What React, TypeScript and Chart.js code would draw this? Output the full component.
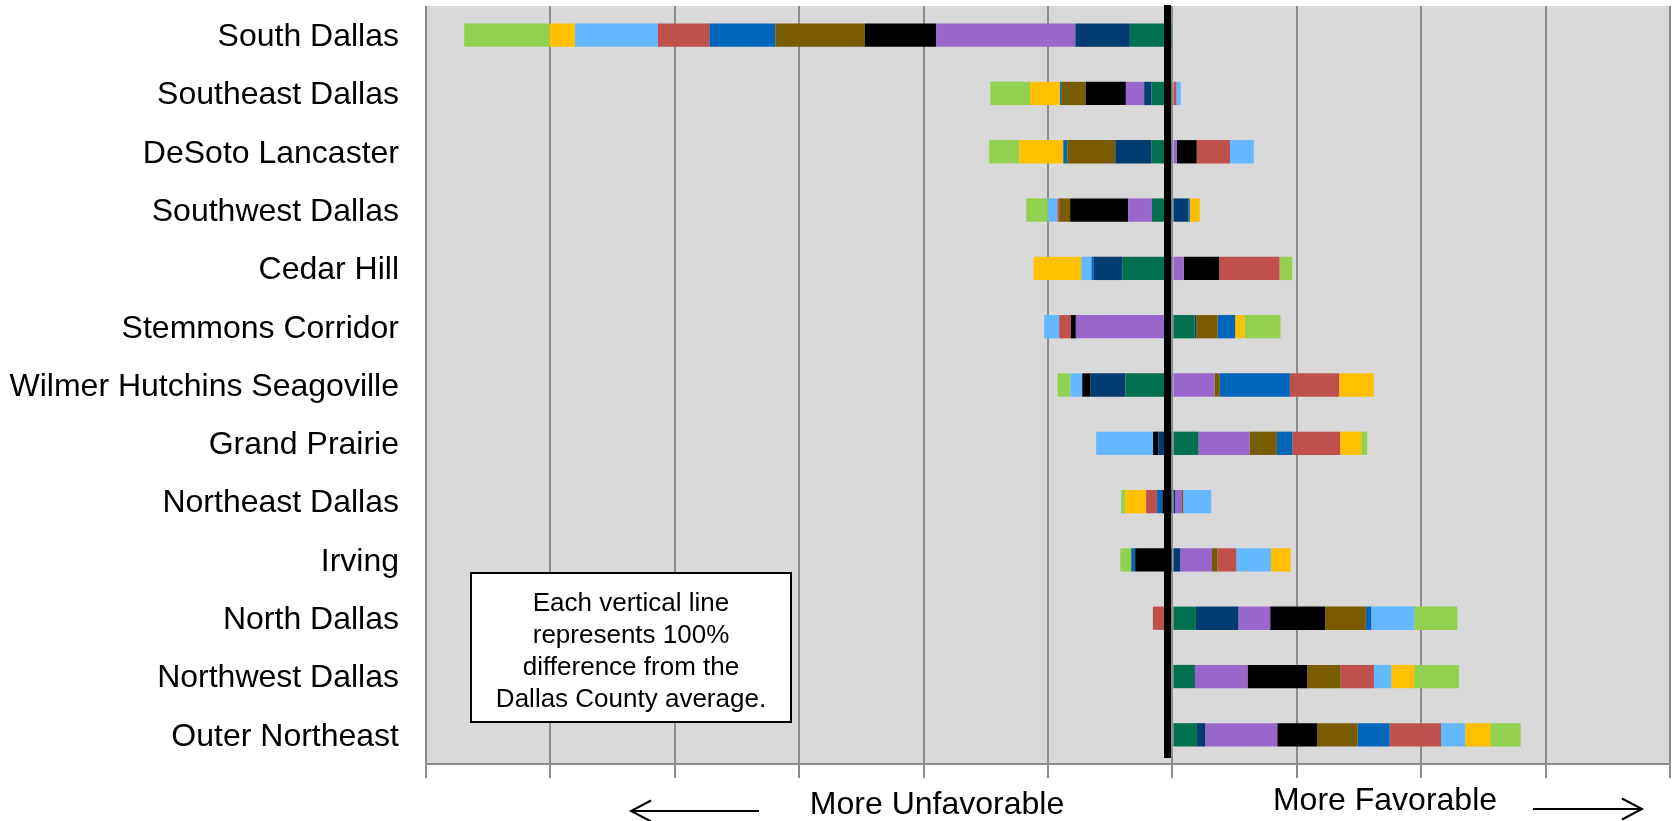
import React, { useEffect, useRef } from 'react';
import { Chart, registerables } from 'chart.js';

Chart.register(...registerables);

// Regions (top to bottom)
const categories = [
  'South Dallas',
  'Southeast Dallas',
  'DeSoto Lancaster',
  'Southwest Dallas',
  'Cedar Hill',
  'Stemmons Corridor',
  'Wilmer Hutchins Seagoville',
  'Grand Prairie',
  'Northeast Dallas',
  'Irving',
  'North Dallas',
  'Northwest Dallas',
  'Outer Northeast',
];

// % difference from Dallas County average, ten indicators (stacked from zero outward)
const tealValues = [-34.2, -16.8, -17.0, -16.5, -40.4, 17.8, -37.7, 21.0, 0, 0, 18.9, 18.1, 19.7];
const navyValues = [-43.8, -5.9, -28.9, 12.9, -22.7, 1.4, -28.4, -11.2, 2.3, 6.3, 34.2, 0, 6.7];
const purpleValues = [-112.0, -14.7, 3.7, -19.1, 9.2, -77.6, 33.8, 41.0, 5.4, 25.5, 25.5, 42.3, 57.9];
const blackValues = [-57.3, -32.2, 15.8, -46.6, 28.4, -4.0, -6.4, -4.3, -8.0, -29.9, 44.2, 48.0, 32.2];
const brownValues = [-71.9, -19.3, -38.6, -8.8, 0, 17.1, 4.3, 22.0, 1.0, 4.3, 32.7, 26.8, 32.4];
const blueValues = [-52.8, -1.4, -3.2, 1.1, -1.9, 14.2, 56.3, 12.3, -4.3, -3.2, 4.3, 0, 25.7];
const redValues = [-41.6, 3.2, 26.8, -1.4, 48.5, -9.4, 39.6, 38.6, -8.8, 15.3, -15.7, 26.8, 41.3];
const lightBlueValues = [-66.6, 3.5, 19.1, -7.7, -8.3, -12.1, -9.4, -45.8, 22.5, 27.9, 34.6, 13.9, 19.5];
const yellowValues = [-20.6, -24.1, -35.4, 8.0, -38.3, 7.5, 27.9, 16.9, -16.9, 15.8, 0, 18.5, 20.1];
const greenValues = [-68.5, -31.9, -24.1, -17.4, 10.2, 28.9, -10.5, 4.8, -3.2, -8.8, 34.6, 35.9, 24.4];

const xMin = -600;
const xMax = 400;
const xStep = 100;

const noteLines = [
  'Each vertical line',
  'represents 100%',
  'difference from the',
  'Dallas County average.',
];
const leftLabel = 'More Unfavorable';
const rightLabel = 'More Favorable';

const FONT = '"Liberation Sans", Arial, Helvetica, sans-serif';

const series = [
  { label: 'Indicator 1', data: tealValues, color: '#00704F' },
  { label: 'Indicator 2', data: navyValues, color: '#003C71' },
  { label: 'Indicator 3', data: purpleValues, color: '#9966CC' },
  { label: 'Indicator 4', data: blackValues, color: '#000000' },
  { label: 'Indicator 5', data: brownValues, color: '#7A5C00' },
  { label: 'Indicator 6', data: blueValues, color: '#0066BB' },
  { label: 'Indicator 7', data: redValues, color: '#C0504D' },
  { label: 'Indicator 8', data: lightBlueValues, color: '#63B8FF' },
  { label: 'Indicator 9', data: yellowValues, color: '#FFC000' },
  { label: 'Indicator 10', data: greenValues, color: '#92D050' },
];

function drawArrow(ctx: CanvasRenderingContext2D, x1: number, x2: number, y: number, dir: number) {
  ctx.beginPath();
  ctx.moveTo(x1, y);
  ctx.lineTo(x2, y);
  ctx.stroke();
  const tip = dir < 0 ? x1 : x2;
  ctx.beginPath();
  ctx.moveTo(tip - dir * 20, y - 10.5);
  ctx.lineTo(tip, y);
  ctx.lineTo(tip - dir * 20, y + 10.5);
  ctx.stroke();
}

const decorPlugin = {
  id: 'decor',
  beforeDraw(chart: any) {
    const { ctx, chartArea } = chart;
    ctx.save();
    ctx.fillStyle = '#D9D9D9';
    ctx.fillRect(chartArea.left, chartArea.top, chartArea.right - chartArea.left, chartArea.bottom - chartArea.top);
    ctx.restore();
  },
  afterDatasetsDraw(chart: any) {
    const { ctx, chartArea } = chart;
    const x0 = chart.scales.x.getPixelForValue(0);
    ctx.save();
    ctx.fillStyle = '#000000';
    ctx.fillRect(Math.round(x0) - 8, chartArea.top - 1, 7, chartArea.bottom - 6 - (chartArea.top - 1));
    ctx.restore();
  },
  afterDraw(chart: any) {
    const { ctx } = chart;
    ctx.save();
    // note box
    ctx.fillStyle = '#FFFFFF';
    ctx.fillRect(471, 573, 320, 149);
    ctx.strokeStyle = '#000000';
    ctx.lineWidth = 2;
    ctx.strokeRect(471, 573, 320, 149);
    ctx.fillStyle = '#000000';
    ctx.font = `26px ${FONT}`;
    ctx.textAlign = 'center';
    ctx.textBaseline = 'alphabetic';
    noteLines.forEach((line, i) => {
      ctx.fillText(line, 631, 610.5 + i * 32);
    });
    // bottom direction labels
    ctx.font = `32px ${FONT}`;
    ctx.fillText(leftLabel, 937, 814);
    ctx.fillText(rightLabel, 1385, 810);
    ctx.lineWidth = 2;
    ctx.strokeStyle = '#000000';
    drawArrow(ctx, 631, 759, 811, -1);
    drawArrow(ctx, 1533, 1642, 809, 1);
    ctx.restore();
  },
};

export default function App() {
  const canvasRef = useRef<HTMLCanvasElement | null>(null);

  useEffect(() => {
    document.body.style.margin = '0';
    const canvas = canvasRef.current;
    if (!canvas) return;
    const chart = new Chart(canvas, {
      type: 'bar',
      data: {
        labels: categories,
        datasets: series.map((s) => ({
          label: s.label,
          data: s.data,
          backgroundColor: s.color,
          borderWidth: 0,
          barPercentage: 0.4,
          categoryPercentage: 1,
        })),
      },
      options: {
        indexAxis: 'y',
        animation: false,
        responsive: false,
        devicePixelRatio: 1,
        layout: { padding: { top: 6, right: 3, left: 0, bottom: 0 } },
        plugins: {
          legend: { display: false },
          tooltip: { enabled: false },
        },
        scales: {
          x: {
            type: 'linear',
            stacked: true,
            min: xMin,
            max: xMax,
            ticks: {
              stepSize: xStep,
              callback: () => '',
              font: { family: FONT, size: 12 },
            },
            grid: {
              color: '#8C8C8C',
              lineWidth: 2,
              drawTicks: true,
              tickLength: 14,
              tickColor: '#8C8C8C',
              tickWidth: 2,
            },
            border: { display: true, color: '#8C8C8C', width: 2 },
            afterFit: (scale: any) => {
              scale.height = 57;
              scale.paddingLeft = 0;
              scale.paddingRight = 0;
            },
          },
          y: {
            type: 'category',
            stacked: true,
            grid: { display: false, drawTicks: false },
            border: { display: false },
            ticks: {
              color: '#000000',
              padding: 27,
              labelOffset: 2,
              font: { family: FONT, size: 32 },
            },
            afterFit: (scale: any) => {
              scale.width = 426;
              scale.paddingTop = 0;
              scale.paddingBottom = 0;
            },
          },
        },
      },
      plugins: [decorPlugin],
    } as any);
    return () => chart.destroy();
  }, []);

  return (
    <div style={{ position: 'fixed', left: 0, top: 0, width: 1673, height: 821, background: '#FFFFFF' }}>
      <canvas ref={canvasRef} width={1673} height={821} style={{ width: 1673, height: 821, display: 'block' }} />
    </div>
  );
}
